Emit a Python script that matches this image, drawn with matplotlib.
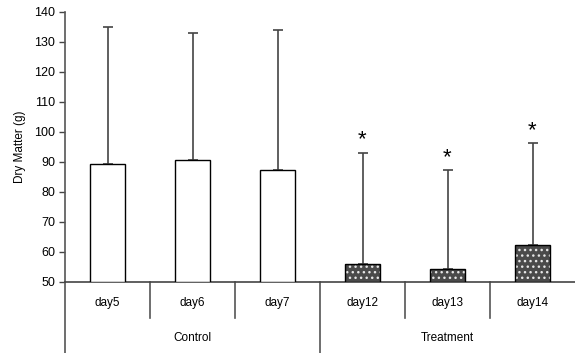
import numpy as np
import matplotlib
matplotlib.use('Agg')
from matplotlib import pyplot as plt
import matplotlib.transforms as mtransforms

plt.rcParams['font.family'] = ['Liberation Sans', 'DejaVu Sans']
plt.rcParams['hatch.linewidth'] = 1.0

days = ['day5', 'day6', 'day7', 'day12', 'day13', 'day14']
groups = ['Control', 'Treatment']
means = [89.5, 90.6, 87.4, 55.9, 54.4, 62.2]
upper = [135.1, 133.0, 134.0, 93.0, 87.3, 96.3]
significant = [False, False, False, True, True, True]

x = np.arange(len(days))
err = np.array(upper) - np.array(means)
base = 50

fig = plt.figure(figsize=(5.75, 3.53), dpi=100)
ax = fig.add_axes([65 / 575, 1 - 282 / 353, 510 / 575, 270 / 353])

ctrl = x < 3
trt = ~ctrl

# Control bars: open boxes
ax.bar(x[ctrl], np.array(means)[ctrl] - base, bottom=base, width=0.41,
       facecolor='white', edgecolor='black', linewidth=1.0, zorder=3)

# Treatment bars: dark grey with a dotted grid, then black outline
ax.bar(x[trt], np.array(means)[trt] - base, bottom=base, width=0.41,
       facecolor='#4a4a4a', edgecolor='#e6e6e6', hatch='...', linewidth=0, zorder=3)
ax.bar(x[trt], np.array(means)[trt] - base, bottom=base, width=0.41,
       fill=False, edgecolor='black', linewidth=1.0, zorder=4)

# upper error bars only
ax.errorbar(x, means, yerr=[np.zeros(len(x)), err], fmt='none',
            ecolor='#444444', elinewidth=1.2, capsize=3.5, capthick=1.2, zorder=2)

for xi, top, sig in zip(x, upper, significant):
    if sig:
        ax.text(xi, top + 0.8, '*', ha='center', va='bottom', fontsize=16)

ax.set_xlim(-0.5, 5.5)
ax.set_ylim(50, 140)
ax.set_yticks(np.arange(50, 141, 10))
ax.tick_params(axis='y', labelsize=9, length=4, width=1, color='#444444', pad=3)
ax.set_xticks([])
for s in ['top', 'right']:
    ax.spines[s].set_visible(False)
ax.spines['left'].set_color('#555555')
ax.spines['left'].set_linewidth(1.2)
ax.spines['bottom'].set_color('#444444')
ax.spines['bottom'].set_linewidth(1.2)
ax.set_ylabel('Dry Matter (g)', fontsize=8.5, labelpad=6)

# category table below the axis
trans = mtransforms.blended_transform_factory(ax.transData, ax.transAxes)
for b in [0.5, 1.5, 3.5, 4.5]:
    ax.plot([b, b], [0, -0.133], transform=trans, color='#555555', lw=1.2, clip_on=False)
ax.plot([2.5, 2.5], [0, -0.27], transform=trans, color='#555555', lw=1.2, clip_on=False)
ax.plot([-0.5, -0.5], [0, -0.27], transform=trans, color='#555555', lw=1.2, clip_on=False)

for xi, d in zip(x, days):
    ax.text(xi, -0.078, d, transform=trans, ha='center', va='center', fontsize=8.5)
ax.text(1, -0.207, groups[0], transform=trans, ha='center', va='center', fontsize=8.5)
ax.text(4, -0.207, groups[1], transform=trans, ha='center', va='center', fontsize=8.5)

fig.savefig('out.png', dpi=100)
